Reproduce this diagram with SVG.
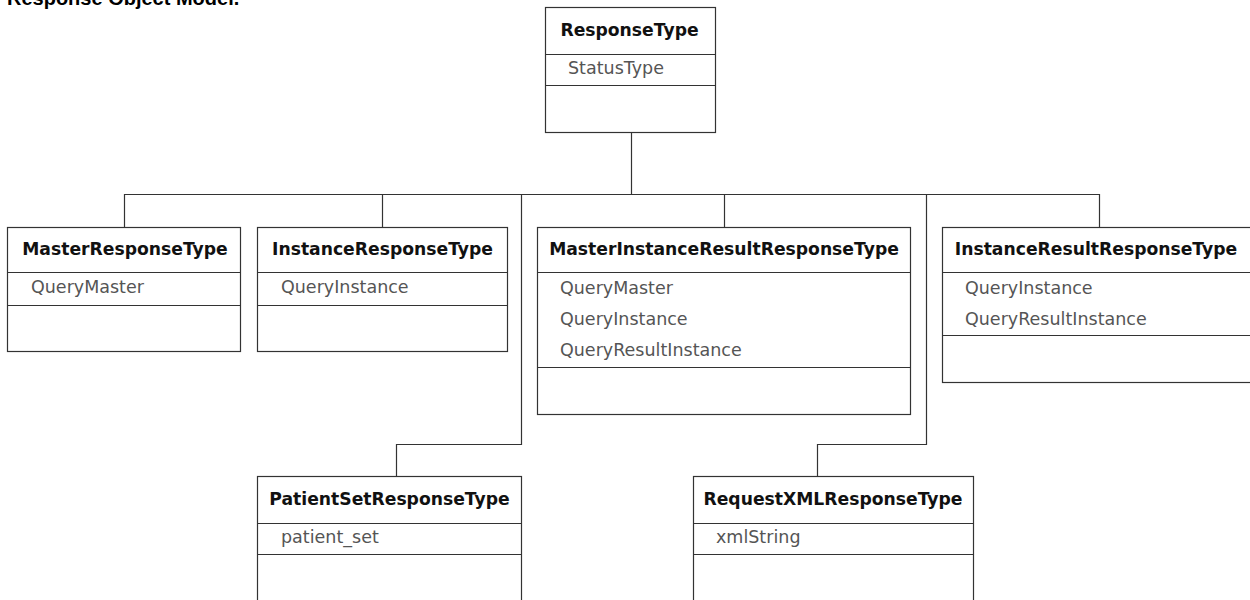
<svg xmlns="http://www.w3.org/2000/svg" width="1250" height="600" viewBox="0 0 1250 600">
<style>
.box{fill:#fff;stroke:#333;stroke-width:1.2}
.div{stroke:#333;stroke-width:1.2}
.conn{fill:none;stroke:#333;stroke-width:1.2}
.hdr{font-family:"DejaVu Sans",Verdana,sans-serif;font-weight:bold;font-size:17.2px;fill:#111;text-anchor:middle}
.att{font-family:"DejaVu Sans",Verdana,sans-serif;font-size:17.5px;fill:#555}
.title{font-family:"Liberation Sans",Arial,sans-serif;font-weight:bold;font-size:20px;fill:#000}
</style>
<rect width="1250" height="600" fill="#fff"/>
<text class="title" x="7" y="4.5">Response Object Model.</text>
<g id="connectors">
<path class="conn" d="M631.5 132.5V194.5"/>
<path class="conn" d="M124.5 227.5V194.5H1099.5V227.5"/>
<path class="conn" d="M382.5 194.5V227.5"/>
<path class="conn" d="M724.5 194.5V227.5"/>
<path class="conn" d="M521.5 194.5V444.5H396.5V476.5"/>
<path class="conn" d="M926.5 194.5V444.5H817.5V476.5"/>
</g>
<g id="ResponseType">
<rect class="box" x="545.5" y="7.5" width="170" height="125"/>
<path class="div" d="M545.5 54.5H715.5M545.5 85.5H715.5"/>
<text class="hdr" x="629.5" y="36">ResponseType</text>
<text class="att" x="568" y="74">StatusType</text>
</g>
<g id="MasterResponseType">
<rect class="box" x="7.5" y="227.5" width="233" height="124"/>
<path class="div" d="M7.5 272.5H240.5M7.5 305.5H240.5"/>
<text class="hdr" x="125" y="255">MasterResponseType</text>
<text class="att" x="31" y="293">QueryMaster</text>
</g>
<g id="InstanceResponseType">
<rect class="box" x="257.5" y="227.5" width="250" height="124"/>
<path class="div" d="M257.5 272.5H507.5M257.5 305.5H507.5"/>
<text class="hdr" x="382.5" y="255">InstanceResponseType</text>
<text class="att" x="281" y="293">QueryInstance</text>
</g>
<g id="MasterInstanceResultResponseType">
<rect class="box" x="537.5" y="227.5" width="373" height="187"/>
<path class="div" d="M537.5 272.5H910.5M537.5 367.5H910.5"/>
<text class="hdr" x="724" y="255">MasterInstanceResultResponseType</text>
<text class="att" x="560" y="293.5">QueryMaster</text>
<text class="att" x="560" y="324.7">QueryInstance</text>
<text class="att" x="560" y="355.9">QueryResultInstance</text>
</g>
<g id="InstanceResultResponseType">
<rect class="box" x="942.5" y="227.5" width="313" height="155"/>
<path class="div" d="M942.5 272.5H1255.5M942.5 335.5H1255.5"/>
<text class="hdr" x="1096" y="255">InstanceResultResponseType</text>
<text class="att" x="965" y="293.5">QueryInstance</text>
<text class="att" x="965" y="324.7">QueryResultInstance</text>
</g>
<g id="PatientSetResponseType">
<rect class="box" x="257.5" y="476.5" width="264" height="140"/>
<path class="div" d="M257.5 523.5H521.5M257.5 554.5H521.5"/>
<text class="hdr" x="389.5" y="505">PatientSetResponseType</text>
<text class="att" x="281" y="543">patient_set</text>
</g>
<g id="RequestXMLResponseType">
<rect class="box" x="693.5" y="476.5" width="280" height="140"/>
<path class="div" d="M693.5 523.5H973.5M693.5 554.5H973.5"/>
<text class="hdr" x="833" y="505">RequestXMLResponseType</text>
<text class="att" x="716" y="543">xmlString</text>
</g>
</svg>
